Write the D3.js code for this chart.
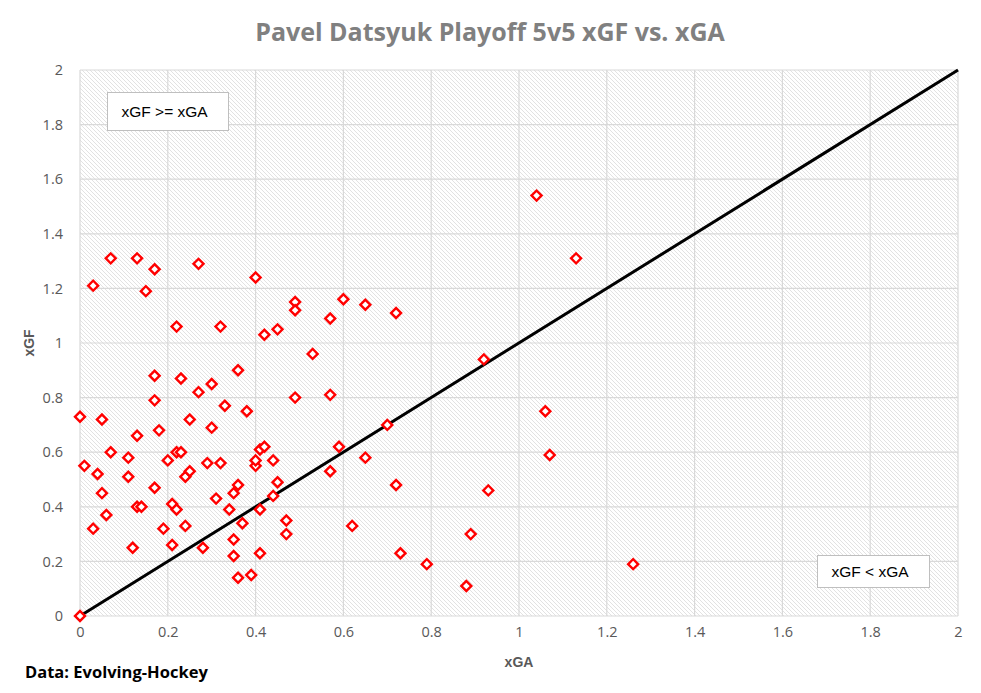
<!DOCTYPE html>
<html>
<head>
<meta charset="utf-8">
<script src="https://cdn.jsdelivr.net/npm/d3@7"></script>
<style>
  body { margin: 0; background: #fff; }
  text { font-family: "Open Sans", "Liberation Sans", sans-serif; }
</style>
</head>
<body>
<div id="chart"></div>
<script>
// xGA (x) and xGF (y) for each playoff game
var xga = [0, 0, 0.01, 0.03, 0.03, 0.04, 0.05, 0.05, 0.06, 0.07, 0.07, 0.11, 0.11, 0.12, 0.13, 0.13, 0.13, 0.14,
  0.15, 0.17, 0.17, 0.17, 0.17, 0.18, 0.19, 0.20, 0.21, 0.21, 0.22, 0.22, 0.22, 0.23, 0.23, 0.24, 0.24, 0.25,
  0.25, 0.27, 0.27, 0.28, 0.29, 0.30, 0.30, 0.31, 0.32, 0.32, 0.33, 0.34, 0.35, 0.35, 0.35, 0.36, 0.36, 0.36,
  0.37, 0.38, 0.39, 0.40, 0.40, 0.40, 0.41, 0.41, 0.41, 0.42, 0.42, 0.44, 0.44, 0.45, 0.45, 0.47, 0.47, 0.49,
  0.49, 0.49, 0.53, 0.57, 0.57, 0.57, 0.59, 0.60, 0.62, 0.65, 0.65, 0.70, 0.72, 0.72, 0.73, 0.79, 0.88, 0.89,
  0.92, 0.93, 1.04, 1.06, 1.07, 1.13, 1.26];
var xgf = [0, 0.73, 0.55, 1.21, 0.32, 0.52, 0.72, 0.45, 0.37, 1.31, 0.60, 0.58, 0.51, 0.25, 1.31, 0.66, 0.40, 0.40,
  1.19, 1.27, 0.88, 0.79, 0.47, 0.68, 0.32, 0.57, 0.41, 0.26, 1.06, 0.60, 0.39, 0.87, 0.60, 0.51, 0.33, 0.72,
  0.53, 1.29, 0.82, 0.25, 0.56, 0.85, 0.69, 0.43, 1.06, 0.56, 0.77, 0.39, 0.45, 0.28, 0.22, 0.90, 0.48, 0.14,
  0.34, 0.75, 0.15, 1.24, 0.55, 0.57, 0.61, 0.39, 0.23, 1.03, 0.62, 0.57, 0.44, 1.05, 0.49, 0.35, 0.30, 1.15,
  1.12, 0.80, 0.96, 1.09, 0.81, 0.53, 0.62, 1.16, 0.33, 1.14, 0.58, 0.70, 1.11, 0.48, 0.23, 0.19, 0.11, 0.30,
  0.94, 0.46, 1.54, 0.75, 0.59, 1.31, 0.19];
var tickValues = [0, 0.2, 0.4, 0.6, 0.8, 1, 1.2, 1.4, 1.6, 1.8, 2];
var refLine = [0, 2];

var width = 981, height = 693;
var margin = {top: 70, right: 23, bottom: 77, left: 80};

var svg = d3.select("#chart").append("svg").attr("width", width).attr("height", height);

// hatch fill for the plot area
var defs = svg.append("defs");
var pat = defs.append("pattern").attr("id", "hatch").attr("patternUnits", "userSpaceOnUse")
  .attr("width", 4).attr("height", 4);
pat.append("rect").attr("width", 4).attr("height", 4).attr("fill", "#fff");
pat.append("path").attr("d", "M-1,-1 L5,5 M-1,3 L1,5 M3,-1 L5,1")
  .attr("stroke", "#e2e2e2").attr("stroke-width", 1);

var x = d3.scaleLinear().domain([0, 2]).range([margin.left, width - margin.right]);
var y = d3.scaleLinear().domain([0, 2]).range([height - margin.bottom, margin.top]);

svg.append("rect")
  .attr("x", x(0)).attr("y", y(2))
  .attr("width", x(2) - x(0)).attr("height", y(0) - y(2))
  .attr("fill", "url(#hatch)");

// gridlines
svg.append("g").selectAll("line").data(tickValues).enter().append("line")
  .attr("x1", x(0)).attr("x2", x(2))
  .attr("y1", function(d) { return y(d); }).attr("y2", function(d) { return y(d); })
  .attr("stroke", "#d9d9d9").attr("stroke-width", 1.2);
svg.append("g").selectAll("line").data(tickValues).enter().append("line")
  .attr("y1", y(0)).attr("y2", y(2))
  .attr("x1", function(d) { return x(d); }).attr("x2", function(d) { return x(d); })
  .attr("stroke", "#d9d9d9").attr("stroke-width", 1.2);

// axes (labels only)
var fmt = function(d) { return String(d); };
var xAxis = svg.append("g").attr("transform", "translate(0," + (y(0) + 8) + ")")
  .call(d3.axisBottom(x).tickValues(tickValues).tickFormat(fmt).tickSize(0));
var yAxis = svg.append("g").attr("transform", "translate(" + (x(0) - 14) + ",0)")
  .call(d3.axisLeft(y).tickValues(tickValues).tickFormat(fmt).tickSize(0));
[xAxis, yAxis].forEach(function(a) {
  a.select(".domain").remove();
  a.selectAll("text").attr("fill", "#595959").style("font-size", "14.5px")
    .style("font-family", "'Open Sans', sans-serif");
});

// reference line xGF = xGA
svg.append("line")
  .attr("x1", x(refLine[0])).attr("y1", y(refLine[0]))
  .attr("x2", x(refLine[1])).attr("y2", y(refLine[1]))
  .attr("stroke", "#000").attr("stroke-width", 3);

// points
var pts = xga.map(function(d, i) { return [d, xgf[i]]; });
var diamond = d3.symbol().type(d3.symbolSquare).size(50);
svg.append("g").selectAll("path").data(pts).enter().append("path")
  .attr("d", diamond)
  .attr("transform", function(d) { return "translate(" + x(d[0]) + "," + y(d[1]) + ") rotate(45)"; })
  .attr("fill", "#fff")
  .attr("stroke", "#ff0000")
  .attr("stroke-width", 2.4);

// text boxes
function box(x0, y0, w, h, label) {
  svg.append("rect").attr("x", x0).attr("y", y0).attr("width", w).attr("height", h)
    .attr("fill", "#fff").attr("stroke", "#bfbfbf").attr("stroke-width", 1);
  svg.append("text").attr("x", x0 + 14).attr("y", y0 + h / 2 + 5.5)
    .attr("fill", "#000").style("font-size", "15.5px")
    .style("font-family", "'Liberation Sans', Arial, sans-serif").text(label);
}
box(107.5, 92.5, 121, 38, "xGF >= xGA");
box(817.5, 555.5, 112, 32, "xGF < xGA");

// titles
svg.append("text").attr("x", 490).attr("y", 41).attr("text-anchor", "middle")
  .attr("fill", "#808080").style("font-size", "25px").style("font-weight", "bold")
  .text("Pavel Datsyuk Playoff 5v5 xGF vs. xGA");
svg.append("text").attr("x", x(1)).attr("y", 667).attr("text-anchor", "middle")
  .attr("fill", "#595959").style("font-size", "14px").style("font-weight", "bold")
  .style("font-family", "'Liberation Sans', Arial, sans-serif").text("xGA");
svg.append("text").attr("transform", "translate(34," + y(1) + ") rotate(-90)").attr("text-anchor", "middle")
  .attr("fill", "#595959").style("font-size", "14px").style("font-weight", "bold")
  .style("font-family", "'Liberation Sans', Arial, sans-serif").text("xGF");
svg.append("text").attr("x", 25).attr("y", 678)
  .attr("fill", "#000").style("font-size", "16.5px").style("font-weight", "bold")
  .text("Data: Evolving-Hockey");
</script>
</body>
</html>
